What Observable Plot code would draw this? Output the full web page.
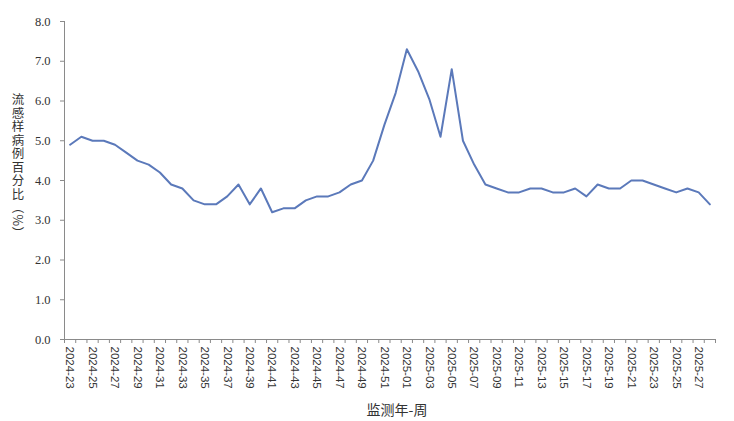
<!DOCTYPE html>
<html>
<head>
<meta charset="utf-8">
<script src="https://cdn.jsdelivr.net/npm/d3@7"></script>
<script src="https://cdn.jsdelivr.net/npm/@observablehq/plot@0.6"></script>
<style>
  html, body { margin: 0; padding: 0; background: #fff; }
  #wrap { position: relative; width: 734px; height: 421px; }
  #ylab { position: absolute; left: 11px; top: 93px; writing-mode: vertical-rl; text-orientation: mixed;
          font-family: "Noto Sans CJK SC", sans-serif; font-size: 12.5px; letter-spacing: 1px; color: #333; line-height: 1; white-space: nowrap; }
  #xlab { position: absolute; left: 397px; top: 402px; transform: translateX(-50%);
          font-family: "Noto Sans CJK SC", sans-serif; font-size: 14px; color: #333; white-space: nowrap; line-height: 1; }
</style>
</head>
<body>
<div id="wrap">
  <div id="chart"></div>
  <div id="ylab"></div>
  <div id="xlab">监测年-周</div>
</div>
<script>
const weeks = [
  "2024-23","2024-24","2024-25","2024-26","2024-27","2024-28","2024-29","2024-30","2024-31","2024-32",
  "2024-33","2024-34","2024-35","2024-36","2024-37","2024-38","2024-39","2024-40","2024-41","2024-42",
  "2024-43","2024-44","2024-45","2024-46","2024-47","2024-48","2024-49","2024-50","2024-51","2024-52",
  "2025-01","2025-02","2025-03","2025-04","2025-05","2025-06","2025-07","2025-08","2025-09","2025-10",
  "2025-11","2025-12","2025-13","2025-14","2025-15","2025-16","2025-17","2025-18","2025-19","2025-20",
  "2025-21","2025-22","2025-23","2025-24","2025-25","2025-26","2025-27","2025-28"
];
const values = [
  4.9, 5.1, 5.0, 5.0, 4.9, 4.7, 4.5, 4.4, 4.2, 3.9,
  3.8, 3.5, 3.4, 3.4, 3.6, 3.9, 3.4, 3.8, 3.2, 3.3,
  3.3, 3.5, 3.6, 3.6, 3.7, 3.9, 4.0, 4.5, 5.4, 6.2,
  7.3, 6.75, 6.05, 5.1, 6.8, 5.0, 4.4, 3.9, 3.8, 3.7,
  3.7, 3.8, 3.8, 3.7, 3.7, 3.8, 3.6, 3.9, 3.8, 3.8,
  4.0, 4.0, 3.9, 3.8, 3.7, 3.8, 3.7, 3.4
];
const xTickLabels = weeks.filter((w, i) => i % 2 === 0);
const yTicks = [0, 1, 2, 3, 4, 5, 6, 7, 8];
const yTitle = "流感样病例百分比（%）";

document.getElementById("ylab").textContent = yTitle;

const data = weeks.map((w, i) => ({i, week: w, value: values[i]}));
const xDomain = [-0.5, weeks.length - 0.5];
const edges = d3.range(weeks.length + 1).map(k => k - 0.5);
const labelIdx = xTickLabels.map(w => weeks.indexOf(w));

const axisColor = "#8a8a8a";

const chart = Plot.plot({
  width: 734,
  height: 421,
  marginLeft: 64,
  marginRight: 19,
  marginTop: 21,
  marginBottom: 82,
  style: {fontSize: "12px", fontFamily: "'Liberation Sans', Arial, sans-serif", color: "#333", background: "#fff"},
  x: {type: "linear", domain: xDomain},
  y: {domain: [0, 8]},
  marks: [
    Plot.ruleX([xDomain[0]], {stroke: axisColor, strokeWidth: 1}),
    Plot.ruleY([0], {stroke: axisColor, strokeWidth: 1}),
    Plot.axisY(yTicks, {tickSize: 4, tickPadding: 10, tickFormat: d3.format(".1f"), stroke: axisColor, fill: "#333", fontSize: 12.5, fontFamily: "'Liberation Serif', serif", label: null}),
    Plot.axisX(edges, {tickSize: 4, tickFormat: () => "", stroke: axisColor, label: null}),
    Plot.axisX(labelIdx, {tickSize: 0, tickPadding: 7, tickRotate: 90, tickFormat: i => weeks[i], fill: "#333", fontSize: 11.5, label: null}),
    Plot.line(data, {x: "i", y: "value", stroke: "#5b79ba", strokeWidth: 2, strokeLinejoin: "round"})
  ]
});
document.getElementById("chart").appendChild(chart);
</script>
</body>
</html>
